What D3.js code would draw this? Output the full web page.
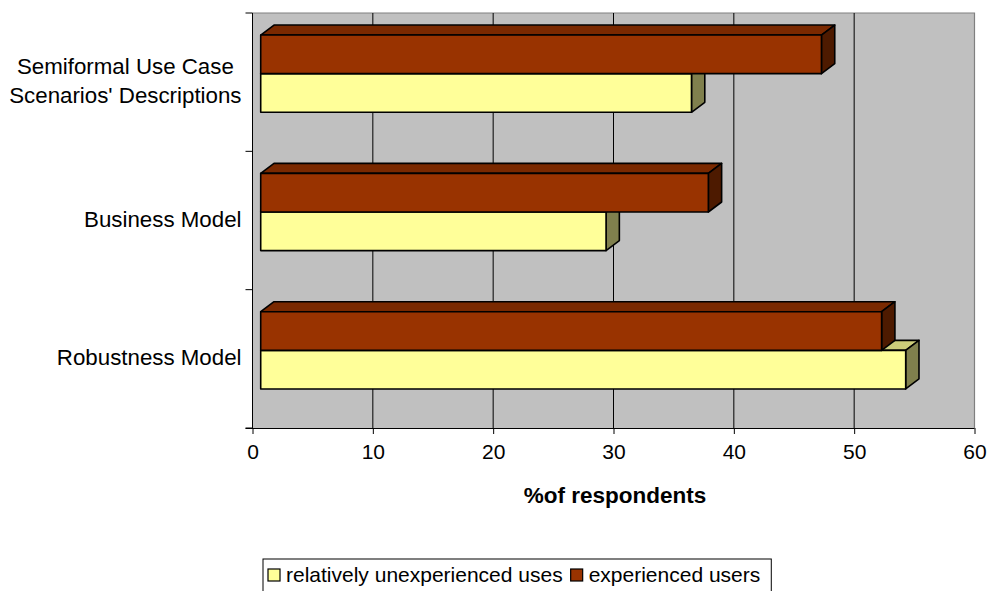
<!DOCTYPE html>
<html>
<head>
<meta charset="utf-8">
<script src="https://cdn.jsdelivr.net/npm/d3@7"></script>
<style>
  html, body { margin: 0; padding: 0; background: #fff; }
  svg { display: block; font-family: "Liberation Sans", Arial, sans-serif; }
</style>
</head>
<body>
<svg id="chart" width="992" height="591"></svg>
<script>
// Categories, top to bottom; multi-line names are split into lines
const categories = ["Semiformal Use Case|Scenarios' Descriptions", "Business Model", "Robustness Model"];
const seriesNames = ["relatively unexperienced uses", "experienced users"];
const unexperienced = [35.8, 28.7, 53.6];
const experienced = [46.6, 37.2, 51.6];
const xTicks = [0, 10, 20, 30, 40, 50, 60];
const axisTitle = "%of respondents";

// Face colours per series: front, top, side
const palette = [
  { front: "#FFFF99", top: "#CCCC7A", side: "#80804D" },
  { front: "#993300", top: "#7A2900", side: "#4D1A00" }
];

const svg = d3.select("#chart");
const wall = { left: 252.5, right: 974.5, top: 13, bottom: 428 };

const x = d3.scaleLinear().domain([0, 60]).range([wall.left, wall.right]);
const y = d3.scaleBand().domain(categories).range([wall.top, wall.bottom]);

// oblique projection of the bars: front plane offset and depth vector
const front = { dx: 8.2, dy: -8.5 };
const depth = { dx: 13.3, dy: -10 };
const barH = 38.6;

// back wall
svg.append("rect")
  .attr("x", wall.left).attr("y", wall.top)
  .attr("width", wall.right - wall.left).attr("height", wall.bottom - wall.top)
  .attr("fill", "#C0C0C0");
svg.append("path")
  .attr("d", `M${wall.left},${wall.top}H${wall.right}V${wall.bottom}`)
  .attr("fill", "none").attr("stroke", "#808080").attr("stroke-width", 1.2);

// vertical gridlines on the wall
svg.append("g").selectAll("line")
  .data(xTicks.filter(t => t > 0 && t < 60))
  .join("line")
  .attr("x1", d => x(d)).attr("x2", d => x(d))
  .attr("y1", wall.top).attr("y2", wall.bottom)
  .attr("stroke", "#000").attr("stroke-width", 1);

// bars
const series = [unexperienced, experienced];
const barsG = svg.append("g");
categories.forEach((cat, i) => {
  const mid = y(cat) + y.bandwidth() / 2 + front.dy;
  // lower bar (unexperienced) first, then the upper bar sitting on it
  [0, 1].forEach(s => {
    const v = series[s][i];
    const x0 = x(0) + front.dx, x1 = x(v) + front.dx;
    const y0 = s === 0 ? mid : mid - barH;
    const y1 = y0 + barH;
    const c = palette[s];
    const g = barsG.append("g")
      .attr("stroke", "#000").attr("stroke-width", 1.6).attr("stroke-linejoin", "round");
    g.append("path").attr("fill", c.top)
      .attr("d", `M${x0},${y0}L${x0 + depth.dx},${y0 + depth.dy}L${x1 + depth.dx},${y0 + depth.dy}L${x1},${y0}Z`);
    g.append("path").attr("fill", c.side)
      .attr("d", `M${x1},${y0}L${x1 + depth.dx},${y0 + depth.dy}L${x1 + depth.dx},${y1 + depth.dy}L${x1},${y1}Z`);
    g.append("rect").attr("fill", c.front)
      .attr("x", x0).attr("y", y0).attr("width", x1 - x0).attr("height", barH);
  });
});

// x axis
const xAxis = d3.axisBottom(x).tickValues(xTicks).tickSize(6).tickSizeOuter(0).tickPadding(10);
const gx = svg.append("g").attr("transform", `translate(0,${wall.bottom})`).call(xAxis);
gx.select(".domain").attr("d", `M${wall.left - 7},0.5H${wall.right}`).attr("stroke", "#000");
gx.selectAll(".tick line").attr("stroke", "#000");
gx.selectAll("text").attr("font-size", 21).attr("fill", "#000")
  .attr("font-family", "'Liberation Sans', Arial, sans-serif");

// y axis line and category ticks
const yBounds = [wall.top].concat(categories.map(c => y(c) + y.bandwidth()));
svg.append("line")
  .attr("x1", wall.left).attr("x2", wall.left)
  .attr("y1", wall.top).attr("y2", wall.bottom)
  .attr("stroke", "#000");
svg.append("g").selectAll("line").data(yBounds).join("line")
  .attr("x1", wall.left - 7).attr("x2", wall.left)
  .attr("y1", d => d).attr("y2", d => d)
  .attr("stroke", "#000");

// category labels, multi-line blocks centred on their widest line
const labelRight = 241.5;
categories.forEach(cat => {
  const lines = cat.split("|");
  const cy = y(cat) + y.bandwidth() / 2;
  const lh = 29;
  const t = svg.append("text").attr("font-size", 22.3).attr("fill", "#000");
  lines.forEach((ln, k) => {
    t.append("tspan").text(ln)
      .attr("y", cy + 6 + (k - (lines.length - 1) / 2) * lh);
  });
  const widths = [];
  t.selectAll("tspan").each(function () { widths.push(this.getComputedTextLength()); });
  const wmax = d3.max(widths);
  t.attr("text-anchor", "middle");
  t.selectAll("tspan").attr("x", labelRight - wmax / 2);
});

// axis title
svg.append("text")
  .attr("x", 615).attr("y", 503)
  .attr("text-anchor", "middle").attr("font-size", 22.5).attr("font-weight", "bold")
  .attr("fill", "#000").text(axisTitle);

// legend
const lg = svg.append("g");
const legTop = 559, legLeft = 263;
const items = lg.append("g");
let cx = legLeft + 5;
seriesNames.forEach((name, s) => {
  items.append("rect").attr("x", cx).attr("y", legTop + 10).attr("width", 12).attr("height", 12)
    .attr("fill", palette[s].front).attr("stroke", "#000").attr("stroke-width", 1.2);
  const t = items.append("text").attr("x", cx + 18).attr("y", legTop + 23)
    .attr("font-size", 21).attr("fill", "#000").text(name);
  cx += 18 + t.node().getComputedTextLength() + 8;
});
lg.insert("rect", ":first-child")
  .attr("x", legLeft).attr("y", legTop).attr("width", cx - legLeft + 3).attr("height", 40)
  .attr("fill", "#fff").attr("stroke", "#000").attr("stroke-width", 1);
</script>
</body>
</html>
